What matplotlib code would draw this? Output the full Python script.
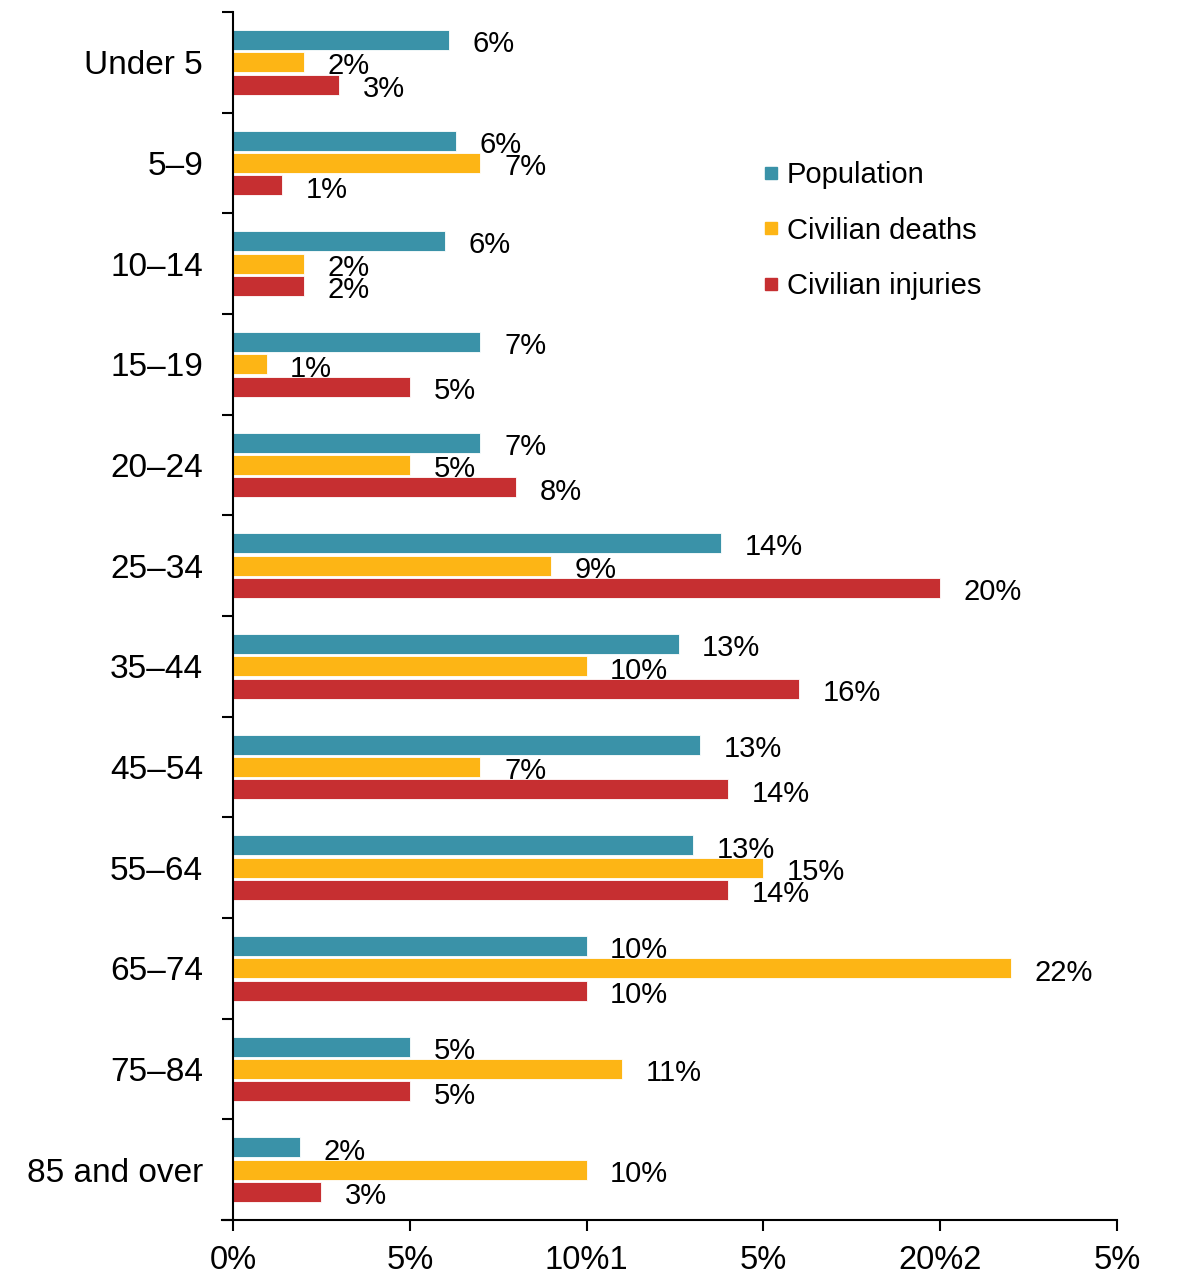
import numpy as np
import matplotlib.pyplot as plt
from matplotlib.lines import Line2D

plt.rcParams['font.family'] = ['Liberation Sans', 'DejaVu Sans']

# age groups and shares (percent)
ages = ['Under 5', '5\u20139', '10\u201314', '15\u201319', '20\u201324', '25\u201334',
        '35\u201344', '45\u201354', '55\u201364', '65\u201374', '75\u201384', '85 and over']
population = [6.1, 6.3, 6.0, 7.0, 7.0, 13.8, 12.6, 13.2, 13.0, 10.0, 5.0, 1.9]
deaths = [2.0, 7.0, 2.0, 0.95, 5.0, 9.0, 10.0, 7.0, 15.0, 22.0, 11.0, 10.0]
injuries = [3.0, 1.4, 2.0, 5.0, 8.0, 20.0, 16.0, 14.0, 14.0, 10.0, 5.0, 2.5]
pop_lab = ['6%', '6%', '6%', '7%', '7%', '14%', '13%', '13%', '13%', '10%', '5%', '2%']
death_lab = ['2%', '7%', '2%', '1%', '5%', '9%', '10%', '7%', '15%', '22%', '11%', '10%']
inj_lab = ['3%', '1%', '2%', '5%', '8%', '20%', '16%', '14%', '14%', '10%', '5%', '3%']
xticks = [0, 5, 10, 15, 20, 25]
xtick_labels = ['0%', '5%', '10%1', '5%', '20%2', '5%']

c_pop = '#3A92A8'
c_death = '#FDB515'
c_inj = '#C62F31'

fig = plt.figure(figsize=(11.79, 12.75), dpi=100)
ax = fig.add_axes([0.1886, 0.0431, 0.7588, 0.9475])

y = np.arange(len(ages))
h = 0.2
off = 0.222
series = [(population, pop_lab, c_pop, -off, 'Population'),
          (deaths, death_lab, c_death, 0, 'Civilian deaths'),
          (injuries, inj_lab, c_inj, off, 'Civilian injuries')]
for vals, labs, col, d, name in series:
    ax.barh(y + d, vals, height=h, color=col, edgecolor='white', linewidth=0.6)
    for yy, v, lab in zip(y + d, vals, labs):
        ax.annotate(lab, (v, yy), xytext=(17, -3), textcoords='offset points',
                    ha='left', va='center', fontsize=21)

ax.set_ylim(len(ages) - 0.5, -0.5)
ax.set_xlim(-0.3, 25)
ax.spines['left'].set_position(('data', 0))
ax.spines['top'].set_visible(False)
ax.spines['right'].set_visible(False)
ax.spines['left'].set_linewidth(1.5)
ax.spines['bottom'].set_linewidth(1.5)

ax.set_yticks(y)
ax.set_yticklabels(ages, fontsize=24)
ax.set_yticks(np.arange(-0.5, len(ages), 1), minor=True)
ax.tick_params(axis='y', which='major', length=0, pad=21.5)
ax.tick_params(axis='y', which='minor', length=8, width=1.5, direction='out')

ax.set_xticks(xticks)
ax.set_xticklabels(xtick_labels, fontsize=23.5)
ax.tick_params(axis='x', length=8, width=1.5, direction='out', pad=10)

handles = [Line2D([], [], marker='s', linestyle='none', color=c, markersize=8)
           for c in (c_pop, c_death, c_inj)]
ax.legend(handles, ['Population', 'Civilian deaths', 'Civilian injuries'],
          loc='upper left', bbox_to_anchor=(0.634, 0.885), bbox_transform=fig.transFigure,
          frameon=False, fontsize=21, handlelength=0.6, handletextpad=0.25,
          labelspacing=0.94, borderpad=0)

fig.savefig('out.png', dpi=100)
